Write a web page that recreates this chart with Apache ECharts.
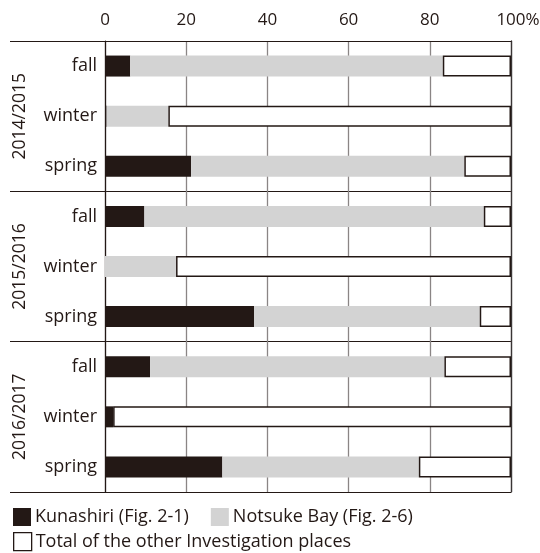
<!DOCTYPE html>
<html>
<head>
<meta charset="utf-8">
<style>html,body{margin:0;padding:0;background:#fff;}#c{width:540px;height:553px;}</style>
<script src="https://cdn.jsdelivr.net/npm/echarts@6/dist/echarts.min.js"></script>
</head>
<body>
<div id="c"></div>
<script>
const years = ['2014/2015', '2015/2016', '2016/2017'];
const seasons = ['fall', 'winter', 'spring', 'fall', 'winter', 'spring', 'fall', 'winter', 'spring'];
const xTicks = [0, 20, 40, 60, 80, 100];
const kunashiri = [6.2, 0.4, 21.2, 9.7, 0, 36.7, 11.1, 2.0, 28.9];
const notsuke = [77.0, 15.2, 67.3, 83.6, 17.5, 55.6, 72.5, 0, 48.4];
const others = [16.8, 84.4, 11.5, 6.7, 82.5, 7.7, 16.4, 98.0, 22.7];
const seriesNames = ['Kunashiri (Fig. 2-1)', 'Notsuke Bay (Fig. 2-6)', 'Total of the other Investigation places'];

const ink = '#231815';
const font = 'Open Sans';
const chart = echarts.init(document.getElementById('c'));
chart.setOption({
  animation: false,
  textStyle: { fontFamily: font, color: ink },
  grid: { left: 105, right: 29, top: 41, bottom: 61, containLabel: false, outerBoundsMode: 'none' },
  xAxis: {
    type: 'value', position: 'top', min: 0, max: 100, interval: 20,
    axisLine: { show: true, lineStyle: { color: ink, width: 1 } },
    axisTick: { show: false },
    axisLabel: {
      fontFamily: font, fontSize: 17, color: ink, margin: 12,
      formatter: v => xTicks.indexOf(v) === xTicks.length - 1 ? '{p|' + v + '%}' : String(v),
      rich: { p: { fontFamily: font, fontSize: 17, color: ink, padding: [0, 0, 0, 14] } }
    },
    splitLine: { show: true, lineStyle: { color: '#8a8585', width: 1.3 } }
  },
  yAxis: [
    {
      type: 'category', data: seasons, inverse: true, position: 'left',
      axisLine: { show: true, lineStyle: { color: ink, width: 1.2 } },
      axisTick: { show: false },
      axisLabel: { fontFamily: font, fontSize: 18, color: ink, margin: 8 },
      splitLine: { show: false }
    },
    {
      type: 'category', data: years, inverse: true, position: 'left',
      axisLine: { show: false },
      axisTick: { show: true, length: 95, lineStyle: { color: ink, width: 1.2 } },
      axisLabel: { fontFamily: font, fontSize: 17.5, color: ink, rotate: 90, margin: 76 },
      splitLine: { show: true, lineStyle: { color: ink, width: 1.2 } }
    },
    {
      type: 'category', data: years, inverse: true, position: 'right',
      axisLine: { show: true, lineStyle: { color: '#3a3535', width: 1.3 } },
      axisTick: { show: false }, axisLabel: { show: false }, splitLine: { show: false }
    }
  ],
  legend: [
    {
      left: 13, top: 508, padding: 0, itemWidth: 18, itemHeight: 18, itemGap: 22, icon: 'rect',
      textStyle: { fontFamily: font, fontSize: 18, color: ink, padding: [0, 0, 0, -1] },
      data: [
        { name: seriesNames[0], itemStyle: { color: ink, borderWidth: 0 } },
        { name: seriesNames[1], itemStyle: { color: '#d3d3d3', borderWidth: 0 } }
      ],
      selectedMode: false
    },
    {
      left: 13, top: 532, padding: 0, itemWidth: 18, itemHeight: 18, icon: 'rect',
      textStyle: { fontFamily: font, fontSize: 18, color: ink, padding: [0, 0, 0, -1] },
      data: [{ name: seriesNames[2], itemStyle: { color: '#fff', borderColor: ink, borderWidth: 1.3 } }],
      selectedMode: false
    }
  ],
  series: [
    { name: seriesNames[0], type: 'bar', stack: 's', barWidth: 21, data: kunashiri,
      itemStyle: { color: ink } },
    { name: seriesNames[1], type: 'bar', stack: 's', barWidth: 21, data: notsuke,
      itemStyle: { color: '#d3d3d3' } },
    { name: seriesNames[2], type: 'bar', stack: 's', barWidth: 21, data: others,
      itemStyle: { color: '#ffffff', borderColor: ink, borderWidth: 1.5 } }
  ]
});
</script>
</body>
</html>
